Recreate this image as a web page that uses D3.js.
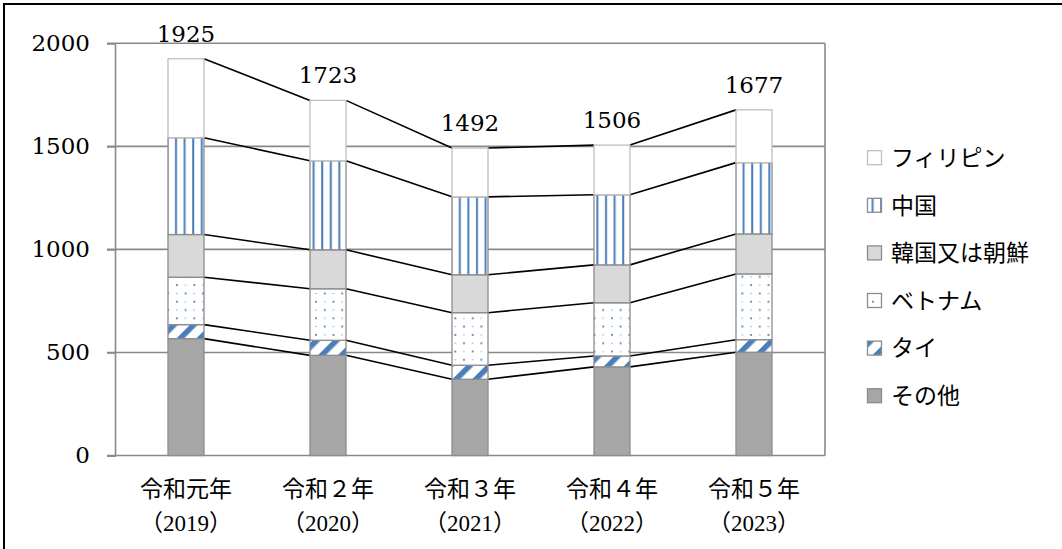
<!DOCTYPE html>
<html><head><meta charset="utf-8">
<script src="https://cdn.jsdelivr.net/npm/d3@7"></script>
<style>
html,body{margin:0;padding:0;background:#fff;}
svg{display:block;}
</style></head>
<body>
<svg id="chart" width="1062" height="549"></svg>
<script>
// ---- data ----
const categories = ["令和元年","令和２年","令和３年","令和４年","令和５年"];
const categoryYears = ["（2019）","（2020）","（2021）","（2022）","（2023）"];
const seriesNames = ["その他","タイ","ベトナム","韓国又は朝鮮","中国","フィリピン"]; // bottom to top
const otherVals   = [567, 486, 370, 430, 501];
const thaiVals    = [68, 73, 68, 53, 61];
const vietnamVals = [230, 250, 255, 258, 319];
const koreaVals   = [207, 189, 184, 184, 194];
const chinaVals   = [470, 432, 378, 340, 346];
const philVals    = [383, 293, 237, 241, 256];
const totals      = [1925, 1723, 1492, 1506, 1677];
const yTicks      = [0, 500, 1000, 1500, 2000];
const legendOrder = ["フィリピン","中国","韓国又は朝鮮","ベトナム","タイ","その他"];

const seriesVals = [otherVals, thaiVals, vietnamVals, koreaVals, chinaVals, philVals];
const rows = categories.map((c,i)=>{
  const r = {cat:c};
  seriesNames.forEach((s,k)=>{ r[s]=seriesVals[k][i]; });
  return r;
});

const svg = d3.select("#chart");
const blue = "#4a7ebb";
const defs = svg.append("defs");

// patterns
const pChina = defs.append("pattern").attr("id","pChina").attr("patternUnits","userSpaceOnUse")
  .attr("width",8.6).attr("height",8);
pChina.append("rect").attr("width",8.6).attr("height",8).attr("fill","#fff");
pChina.append("rect").attr("x",3).attr("width",2).attr("height",8).attr("fill",blue);

const pViet = defs.append("pattern").attr("id","pViet").attr("patternUnits","userSpaceOnUse")
  .attr("width",17.4).attr("height",16.6);
pViet.append("rect").attr("width",17.4).attr("height",16.6).attr("fill","#fff");
pViet.append("rect").attr("x",2).attr("y",2).attr("width",1.8).attr("height",1.8).attr("fill",blue);
pViet.append("rect").attr("x",10.7).attr("y",10.3).attr("width",1.8).attr("height",1.8).attr("fill",blue);
pViet.append("rect").attr("x",10.7).attr("y",2.5).attr("width",1.6).attr("height",0.9).attr("fill",blue).attr("opacity",0.7);
pViet.append("rect").attr("x",2).attr("y",10.8).attr("width",1.6).attr("height",0.9).attr("fill",blue).attr("opacity",0.7);

const pThai = defs.append("pattern").attr("id","pThai").attr("patternUnits","userSpaceOnUse")
  .attr("width",14).attr("height",14).attr("patternTransform","rotate(45)");
pThai.append("rect").attr("width",14).attr("height",14).attr("fill","#fff");
pThai.append("rect").attr("x",0).attr("width",5.5).attr("height",14).attr("fill",blue);

const fills = {
  "その他":"#a6a6a6",
  "タイ":"url(#pThai)",
  "ベトナム":"url(#pViet)",
  "韓国又は朝鮮":"#d9d9d9",
  "中国":"url(#pChina)",
  "フィリピン":"#ffffff"
};
const strokes = {
  "その他":"#8c8c8c","タイ":"#8c8c8c","ベトナム":"#8c8c8c",
  "韓国又は朝鮮":"#8c8c8c","中国":"#8c8c8c","フィリピン":"#bfbfbf"
};

// outer border (top & left visible)
svg.append("rect").attr("x",4).attr("y",4).attr("width",1100).attr("height",600)
  .attr("fill","none").attr("stroke","#000").attr("stroke-width",2);

// scales
const x0 = 115, x1 = 825;
const x = d3.scaleBand().domain(categories).range([x0,x1]).paddingInner(0.7465).paddingOuter(0.7465/2);
const y = d3.scaleLinear().domain([0,2000]).range([455.5,43.3]);

const numFont = "'DejaVu Serif', 'Liberation Serif', serif";
const jpFont = "'Noto Sans CJK JP', sans-serif";

// gridlines
const grid = svg.append("g");
grid.selectAll("line").data(yTicks.filter(t=>t>0)).join("line")
  .attr("x1",x0-8).attr("x2",x1).attr("y1",d=>y(d)).attr("y2",d=>y(d))
  .attr("stroke","#898989").attr("stroke-width",1.6);

// y axis
const yAxis = d3.axisLeft(y).tickValues(yTicks).tickSize(8).tickPadding(17).tickFormat(d3.format("d"));
const ga = svg.append("g").attr("transform",`translate(${x0},0)`).call(yAxis);
ga.select(".domain").attr("stroke","#898989").attr("stroke-width",1.6);
ga.selectAll(".tick line").attr("stroke","#898989").attr("stroke-width",1.6);
ga.selectAll(".tick text").attr("font-family",numFont).attr("font-size",23).attr("fill","#000");

// x axis baseline + right border
svg.append("line").attr("x1",x0-8).attr("x2",x1).attr("y1",y(0)).attr("y2",y(0))
  .attr("stroke","#898989").attr("stroke-width",1.6);
svg.append("line").attr("x1",x1).attr("x2",x1).attr("y1",y(2000)).attr("y2",y(0))
  .attr("stroke","#898989").attr("stroke-width",1.6);

// stack
const stack = d3.stack().keys(seriesNames)(rows);

// connecting lines
const conn = svg.append("g");
stack.forEach(layer=>{
  for(let i=0;i<categories.length-1;i++){
    conn.append("line")
      .attr("x1",x(categories[i])+x.bandwidth()).attr("y1",y(layer[i][1]))
      .attr("x2",x(categories[i+1])).attr("y2",y(layer[i+1][1]))
      .attr("stroke","#000").attr("stroke-width",1.6);
  }
});

// bars
const bars = svg.append("g");
stack.forEach(layer=>{
  bars.selectAll(null).data(layer).join("rect")
    .attr("x",d=>x(d.data.cat))
    .attr("y",d=>y(d[1]))
    .attr("width",x.bandwidth())
    .attr("height",d=>y(d[0])-y(d[1]))
    .attr("fill",fills[layer.key])
    .attr("stroke",strokes[layer.key])
    .attr("stroke-width",1.3);
});

// total labels
svg.append("g").selectAll("text").data(categories).join("text")
  .attr("x",d=>x(d)+x.bandwidth()/2)
  .attr("y",(d,i)=>y(totals[i])-17)
  .attr("text-anchor","middle")
  .attr("font-family",numFont).attr("font-size",23).attr("fill","#000")
  .text((d,i)=>totals[i]);

// category labels
const cl = svg.append("g");
cl.selectAll("text.l1").data(categories).join("text").attr("class","l1")
  .attr("x",d=>x(d)+x.bandwidth()/2).attr("y",497)
  .attr("text-anchor","middle").attr("font-family",jpFont).attr("font-size",23).attr("fill","#000")
  .text(d=>d);
cl.selectAll("text.l2").data(categories).join("text").attr("class","l2")
  .attr("x",d=>x(d)+x.bandwidth()/2).attr("y",531)
  .attr("text-anchor","middle").attr("font-family","'Liberation Serif', 'Noto Sans CJK JP', serif").attr("font-size",23).attr("fill","#000")
  .text((d,i)=>categoryYears[i]);

// legend
const lg = svg.append("g");
const rowY = d3.scaleLinear().domain([0,5]).range([157.7,395.7]);
legendOrder.forEach((name,i)=>{
  const cy = rowY(i);
  lg.append("rect").attr("x",867.5).attr("y",cy-7).attr("width",14).attr("height",14)
    .attr("fill",fills[name]).attr("stroke",strokes[name]).attr("stroke-width",1.3);
  lg.append("text").attr("x",891).attr("y",cy).attr("dy","0.36em")
    .attr("font-family",jpFont).attr("font-size",23).attr("fill","#000").text(name);
});
</script>
</body></html>
